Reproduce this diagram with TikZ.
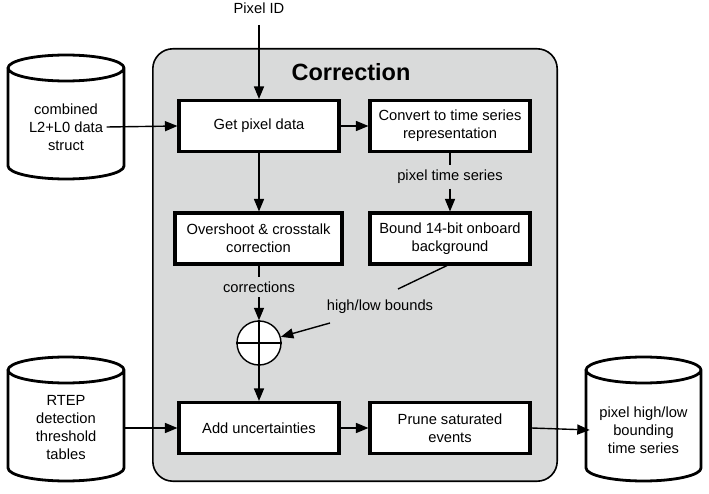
\documentclass[tikz,border=0pt]{standalone}
\usepackage{fontspec}
\setmainfont{Liberation Sans}
\usetikzlibrary{arrows.meta,calc}
\definecolor{panel}{RGB}{217,218,218}
\newcommand\dbcyl[5]{% cx, top ellipse y, bottom ellipse y, half width, y radius
  \draw[cylline] ({#1-#4},#2) -- ({#1-#4},#3)
    arc[start angle=180,end angle=360,x radius=#4pt,y radius=#5pt]
    -- ({#1+#4},#2)
    arc[start angle=0,end angle=360,x radius=#4pt,y radius=#5pt];}
\begin{document}
\begin{tikzpicture}[x=1pt,y=1pt,
  every node/.style={font=\fontsize{14.7}{18}\selectfont, align=center},
  procbox/.style={draw, line width=3.1pt, fill=white, minimum width=160pt, minimum height=51pt, inner sep=2pt},
  cylline/.style={draw, line width=2.8pt, fill=white},
  arr/.style={line width=1.4pt, -{Triangle[length=12.5pt,width=10pt]}},
  plain/.style={line width=1.4pt},
  lbl/.style={inner sep=4.5pt}]
\useasboundingbox (0,0) rectangle (709,493);
\draw[fill=panel, line width=1.6pt, rounded corners=20pt] (152.8,11.8) rectangle (557.2,444.2);
\node[font=\bfseries\fontsize{23.5}{28}\selectfont] (title) at (351,421) {Correction};
\node (pid) at (259,485) {Pixel ID};
\node[procbox] (get) at (259,367) {Get pixel data};
\node[procbox] (conv) at (450,367) {Convert to time series\\representation};
\node[procbox, minimum width=167pt] (over) at (258.5,254.5) {Overshoot \& crosstalk\\correction};
\node[procbox] (bound) at (450,254.5) {Bound 14-bit onboard\\background};
\node[procbox] (add) at (259,65) {Add uncertainties};
\node[procbox] (prune) at (450,65) {Prune saturated\\events};
\node[lbl] (pts) at (450,316) {pixel time series};
\node[lbl] (corr) at (259,206) {corrections};
\node[lbl] (hl) at (380,186) {high/low bounds};
\node[circle, draw, line width=1.4pt, fill=white, minimum size=44pt, inner sep=0pt] (sum) at (259,150) {};
\draw[line width=1.2pt] (sum.north) -- (sum.south) (sum.west) -- (sum.east);
\dbcyl{66}{425}{327}{58}{13}
\node (db1) at (66,366) {combined\\L2+L0 data\\struct};
\dbcyl{66}{123}{25}{58}{13}
\node[minimum width=118pt] (db2) at (66,65) {RTEP\\detection\\threshold\\tables};
\dbcyl{643.5}{123}{25}{57.5}{13}
\node[minimum width=107pt] (db3) at (643.5,63) {pixel high/low\\bounding\\time series};
\coordinate (hlA) at (398,204);
\coordinate (hlB) at (330,170);
\draw[arr, shorten <=8pt] (pid.south) -- (get.north);
\draw[arr] (db1.east) -- (get.west);
\draw[arr] (get.east) -- (conv.west);
\draw[arr] (get.south) -- (get.south |- over.north);
\draw[plain] (conv.south) -- (pts.north);
\draw[arr] (pts.south) -- (bound.north);
\draw[plain] (over.south -| corr.north) -- (corr.north);
\draw[arr] (corr.south) -- (sum.north);
\draw[plain] ($(bound.south)+(-3,0)$) -- (hlA);
\draw[arr] (hlB) -- (sum);
\draw[arr] (sum.south) -- (add.north);
\draw[arr] (db2.east) -- (add.west);
\draw[arr] (add.east) -- (prune.west);
\draw[arr] (prune.east) -- (db3.west);
\end{tikzpicture}
\end{document}
